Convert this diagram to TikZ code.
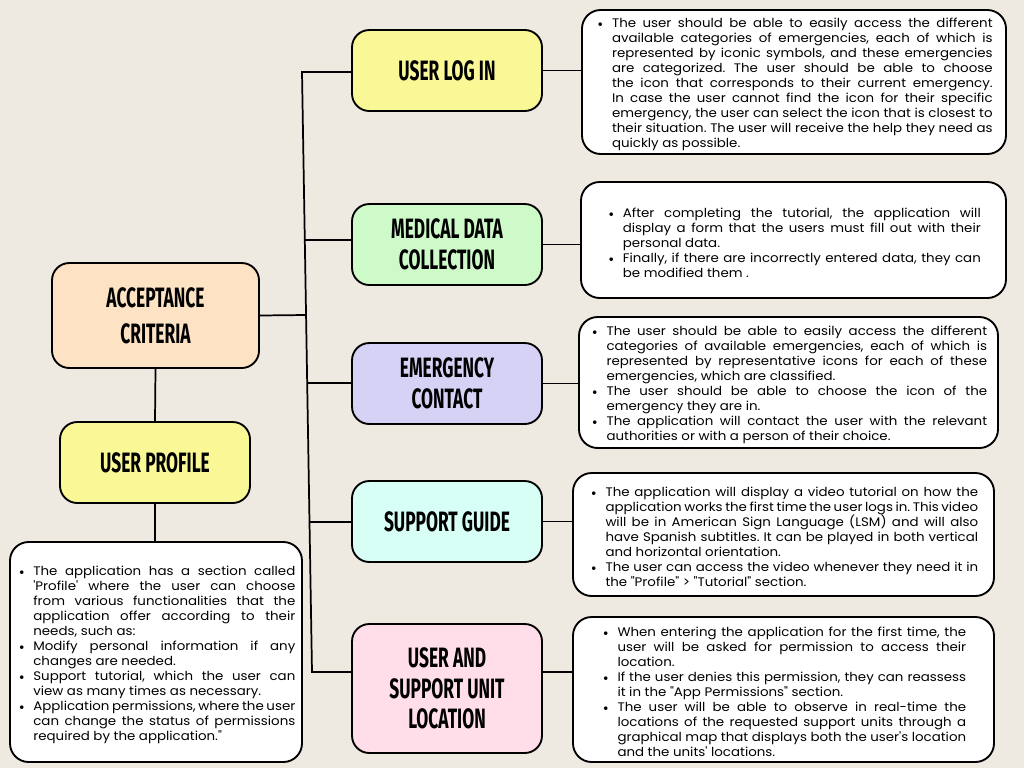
\documentclass[tikz,border=0pt]{standalone}
\usepackage{fontspec}
\newfontfamily\bodyfont[FakeStretch=1.08]{Poppins}
\newfontfamily\headfont[FakeStretch=0.62]{Fira Sans}
\usepackage{enumitem}
\usetikzlibrary{positioning,calc}
\definecolor{paper}{RGB}{238,234,226}
\definecolor{peach}{RGB}{253,226,196}
\definecolor{lemon}{RGB}{250,248,150}
\definecolor{mint}{RGB}{205,250,200}
\definecolor{lilac}{RGB}{214,210,246}
\definecolor{aqua}{RGB}{215,255,245}
\definecolor{blush}{RGB}{255,222,234}
\setlist[itemize]{nosep,leftmargin=12.5pt,labelsep=5pt}
\hyphenpenalty=10000
\exhyphenpenalty=10000
\frenchspacing
\tikzset{
  hbox/.style={draw=black,line width=1.4pt,rounded corners=13pt,
    minimum width=142.5pt,minimum height=60.75pt,align=center,inner sep=2pt,
    font=\headfont\bfseries\fontsize{21}{23}\selectfont},
  notebox/.style={draw=black,fill=white,line width=1.4pt,rounded corners=14pt,
    inner sep=0pt,align=justify,font=\bodyfont\fontsize{9.3}{11.25}\selectfont},
  link/.style={line width=1.3pt,black},
}

\begin{document}
\begin{tikzpicture}[x=0.75pt,y=-0.75pt]
  \fill[paper] (0,0) rectangle (1024,768);
  \node[hbox,fill=peach,minimum width=155.25pt,minimum height=78.75pt,
    font=\headfont\bfseries\fontsize{21}{27}\selectfont] (accept) at (155.5,315.5) {ACCEPTANCE\\CRITERIA};
  \node[hbox,fill=lemon] (profile) at (155,462.5) {USER PROFILE};
  \node[hbox,fill=lemon] (login) at (447,70.5) {USER LOG IN};
  \node[hbox,fill=mint] (medical) at (447,244.5) {MEDICAL DATA\\COLLECTION};
  \node[hbox,fill=lilac] (emerg) at (447,383.5) {EMERGENCY\\CONTACT};
  \node[hbox,fill=aqua] (guide) at (447,521.5) {SUPPORT GUIDE};
  \node[hbox,fill=blush,minimum height=96.75pt] (loc) at (447,688.5) {USER AND\\SUPPORT UNIT\\LOCATION};

  \node[notebox,minimum width=318pt,minimum height=108pt,text width=298pt] (n1) at (794,82) {%
    \begin{itemize}
      \item The user should be able to easily access the different available categories of emergencies, each of which is represented by iconic symbols, and these emergencies are categorized. The user should be able to choose the icon that corresponds to their current emergency. In case the user cannot find the icon for their specific emergency, the user can select the icon that is closest to their situation. The user will receive the help they need as quickly as possible.
    \end{itemize}};
  \node[notebox,minimum width=318.75pt,minimum height=87pt,text width=281pt] (n2) at (793.5,240) {%
    \begin{itemize}
      \item After completing the tutorial, the application will display a form that the users must fill out with their personal data.
      \item Finally, if there are incorrectly entered data, they can be modified them .
    \end{itemize}};
  \node[notebox,minimum width=314.25pt,minimum height=98.25pt,text width=298pt] (n3) at (788.5,382.5) {%
    \begin{itemize}
      \item The user should be able to easily access the different categories of available emergencies, each of which is represented by representative icons for each of these emergencies, which are classified.
      \item The user should be able to choose the icon of the emergency they are in.
      \item The application will contact the user with the relevant authorities or with a person of their choice.
    \end{itemize}};
  \node[notebox,minimum width=315.75pt,minimum height=92.25pt,text width=292pt] (n4) at (783.5,534.5) {%
    \begin{itemize}
      \item The application will display a video tutorial on how the application works the first time the user logs in. This video will be in American Sign Language (LSM) and will also have Spanish subtitles. It can be played in both vertical and horizontal orientation.
      \item The user can access the video whenever they need it in the "Profile" > "Tutorial" section.
    \end{itemize}};
  \node[notebox,minimum width=315.75pt,minimum height=108.75pt,text width=274pt] (n5) at (783.5,689.5) {%
    \begin{itemize}
      \item When entering the application for the first time, the user will be asked for permission to access their location.
      \item If the user denies this permission, they can reassess it in the "App Permissions" section.
      \item The user will be able to observe in real-time the locations of the requested support units through a graphical map that displays both the user's location and the units' locations.
    \end{itemize}};
  \node[notebox,minimum width=219pt,minimum height=165pt,text width=209pt] (pnote) at (156,652) {%
    \begin{itemize}
      \item The application has a section called 'Profile' where the user can choose from various functionalities that the application offer according to their needs, such as:
      \item Modify personal information if any changes are needed.
      \item Support tutorial, which the user can view as many times as necessary.
      \item Application permissions, where the user can change the status of permissions required by the application."
    \end{itemize}};

  \coordinate (ttop) at (302,72);
  \coordinate (tbot) at (312,672);
  \coordinate (jacc) at ($(ttop)!0.405!(tbot)$);
  \coordinate (jmed) at ($(ttop)!0.28!(tbot)$);
  \coordinate (jem) at ($(ttop)!0.518!(tbot)$);
  \coordinate (jgd) at ($(ttop)!0.75!(tbot)$);
  \draw[link] (login.west |- ttop) -- (ttop) -- (tbot) -- (loc.west |- tbot);
  \draw[link] (accept.east) -- (jacc);
  \draw[link] (jmed) -- (jmed -| medical.west);
  \draw[link] (jem) -- (jem -| emerg.west);
  \draw[link] (jgd) -- (jgd -| guide.west);
  \draw[link] (accept.south) -- (profile.north);
  \draw[link] (profile.south) -- (profile.south |- pnote.north);
  \draw[link] (login.east) -- (login.east -| n1.west);
  \draw[link] (medical.east) -- (medical.east -| n2.west);
  \draw[link] (emerg.east) -- (emerg.east -| n3.west);
  \draw[link] (guide.east) -- (guide.east -| n4.west);
  \draw[link] (tbot -| loc.east) -- (tbot -| n5.west);
\end{tikzpicture}
\end{document}
